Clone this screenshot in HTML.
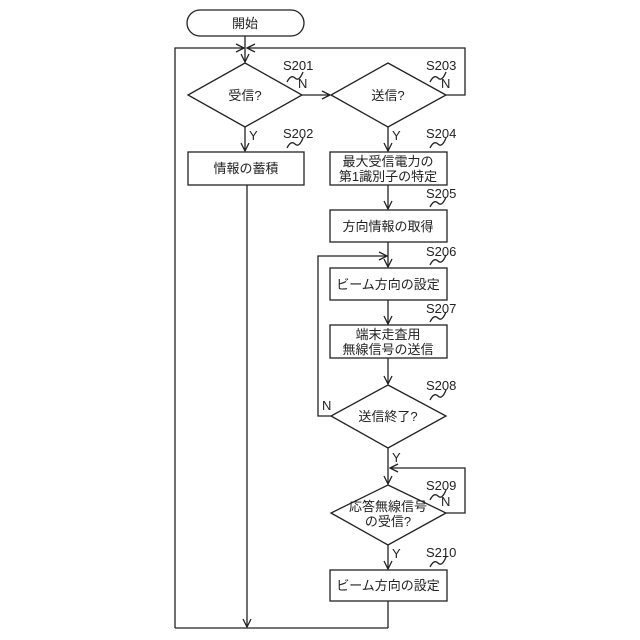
<!DOCTYPE html>
<html><head><meta charset="utf-8"><style>html,body{margin:0;padding:0;background:#fff}svg{display:block}text{font-family:"Liberation Sans","Noto Sans CJK JP",sans-serif;font-size:13px;fill:#222}</style></head><body>
<svg width="640" height="640" viewBox="0 0 640 640" xmlns="http://www.w3.org/2000/svg">
<defs><marker id="a" markerWidth="10" markerHeight="10" refX="9" refY="5" orient="auto" markerUnits="userSpaceOnUse"><path d="M1,1 L9,5 L1,9" fill="none" stroke="#222" stroke-width="1.3"/></marker></defs>
<g fill="none" stroke="#222" stroke-width="1.3">
<rect x="187" y="10" width="117" height="26" rx="13"/>
<line x1="245" y1="36" x2="245" y2="62" marker-end="url(#a)"/>
<polyline points="175,628 175,48 244,48" marker-end="url(#a)"/>
<polyline points="446,95 465,95 465,48 247,48" marker-end="url(#a)"/>
<polygon points="245,63 302,95 245,127 188,95"/>
<polygon points="388,63 446,95 388,127 331,95"/>
<line x1="302" y1="95" x2="330" y2="95" marker-end="url(#a)"/>
<line x1="245" y1="127" x2="245" y2="151" marker-end="url(#a)"/>
<line x1="388" y1="127" x2="388" y2="151" marker-end="url(#a)"/>
<rect x="188" y="152" width="116" height="33"/>
<rect x="330" y="152" width="117" height="33"/>
<line x1="247" y1="185" x2="247" y2="627" marker-end="url(#a)"/>
<line x1="388" y1="185" x2="388" y2="209" marker-end="url(#a)"/>
<rect x="330" y="210" width="117" height="32"/>
<line x1="388" y1="242" x2="388" y2="267" marker-end="url(#a)"/>
<rect x="330" y="268" width="117" height="32"/>
<line x1="388" y1="300" x2="388" y2="324" marker-end="url(#a)"/>
<rect x="330" y="325" width="117" height="33"/>
<line x1="388" y1="358" x2="388" y2="384" marker-end="url(#a)"/>
<polygon points="388,385 446,416 388,448 331,416"/>
<polyline points="331,416 318,416 318,256 387,256" marker-end="url(#a)"/>
<line x1="388" y1="448" x2="388" y2="484" marker-end="url(#a)"/>
<polygon points="388,485 446,513 388,545 331,513"/>
<polyline points="446,513 465,513 465,468 390,468" marker-end="url(#a)"/>
<line x1="388" y1="545" x2="388" y2="569" marker-end="url(#a)"/>
<rect x="330" y="570" width="117" height="31"/>
<line x1="388" y1="601" x2="388" y2="628"/>
<line x1="175" y1="628" x2="388" y2="628"/>
<path d="M287,82 q4,-8 8,-4 q4,4 8,-6"/>
<path d="M430,82 q4,-8 8,-4 q4,4 8,-6"/>
<path d="M287,148 q4,-8 8,-4 q4,4 8,-6"/>
<path d="M430,148 q4,-8 8,-4 q4,4 8,-6"/>
<path d="M430,207 q4,-8 8,-4 q4,4 8,-6"/>
<path d="M430,265 q4,-8 8,-4 q4,4 8,-6"/>
<path d="M430,322 q4,-8 8,-4 q4,4 8,-6"/>
<path d="M430,400 q4,-8 8,-4 q4,4 8,-6"/>
<path d="M430,500 q4,-8 8,-4 q4,4 8,-6"/>
<path d="M430,567 q4,-8 8,-4 q4,4 8,-6"/>
</g>
<g text-anchor="middle">
<text x="245" y="28">開始</text>
<text x="245" y="100">受信?</text>
<text x="388" y="100">送信?</text>
<text x="246" y="173">情報の蓄積</text>
<text x="388" y="166">最大受信電力の</text>
<text x="388" y="181">第1識別子の特定</text>
<text x="388" y="231">方向情報の取得</text>
<text x="388" y="289">ビーム方向の設定</text>
<text x="388" y="339">端末走査用</text>
<text x="388" y="354">無線信号の送信</text>
<text x="388" y="421">送信終了?</text>
<text x="388" y="511">応答無線信号</text>
<text x="388" y="526">の受信?</text>
<text x="388" y="590">ビーム方向の設定</text>
</g>
<g>
<text x="283" y="70">S201</text><text x="426" y="70">S203</text>
<text x="283" y="138">S202</text><text x="426" y="138">S204</text>
<text x="426" y="198">S205</text><text x="426" y="256">S206</text>
<text x="426" y="313">S207</text><text x="426" y="390">S208</text>
<text x="426" y="490">S209</text><text x="426" y="557">S210</text>
<text x="298" y="88">N</text><text x="441" y="88">N</text>
<text x="249" y="140">Y</text><text x="392" y="140">Y</text>
<text x="322" y="410">N</text><text x="392" y="462">Y</text>
<text x="441" y="506">N</text><text x="392" y="558">Y</text>
</g>
</svg>
</body></html>
